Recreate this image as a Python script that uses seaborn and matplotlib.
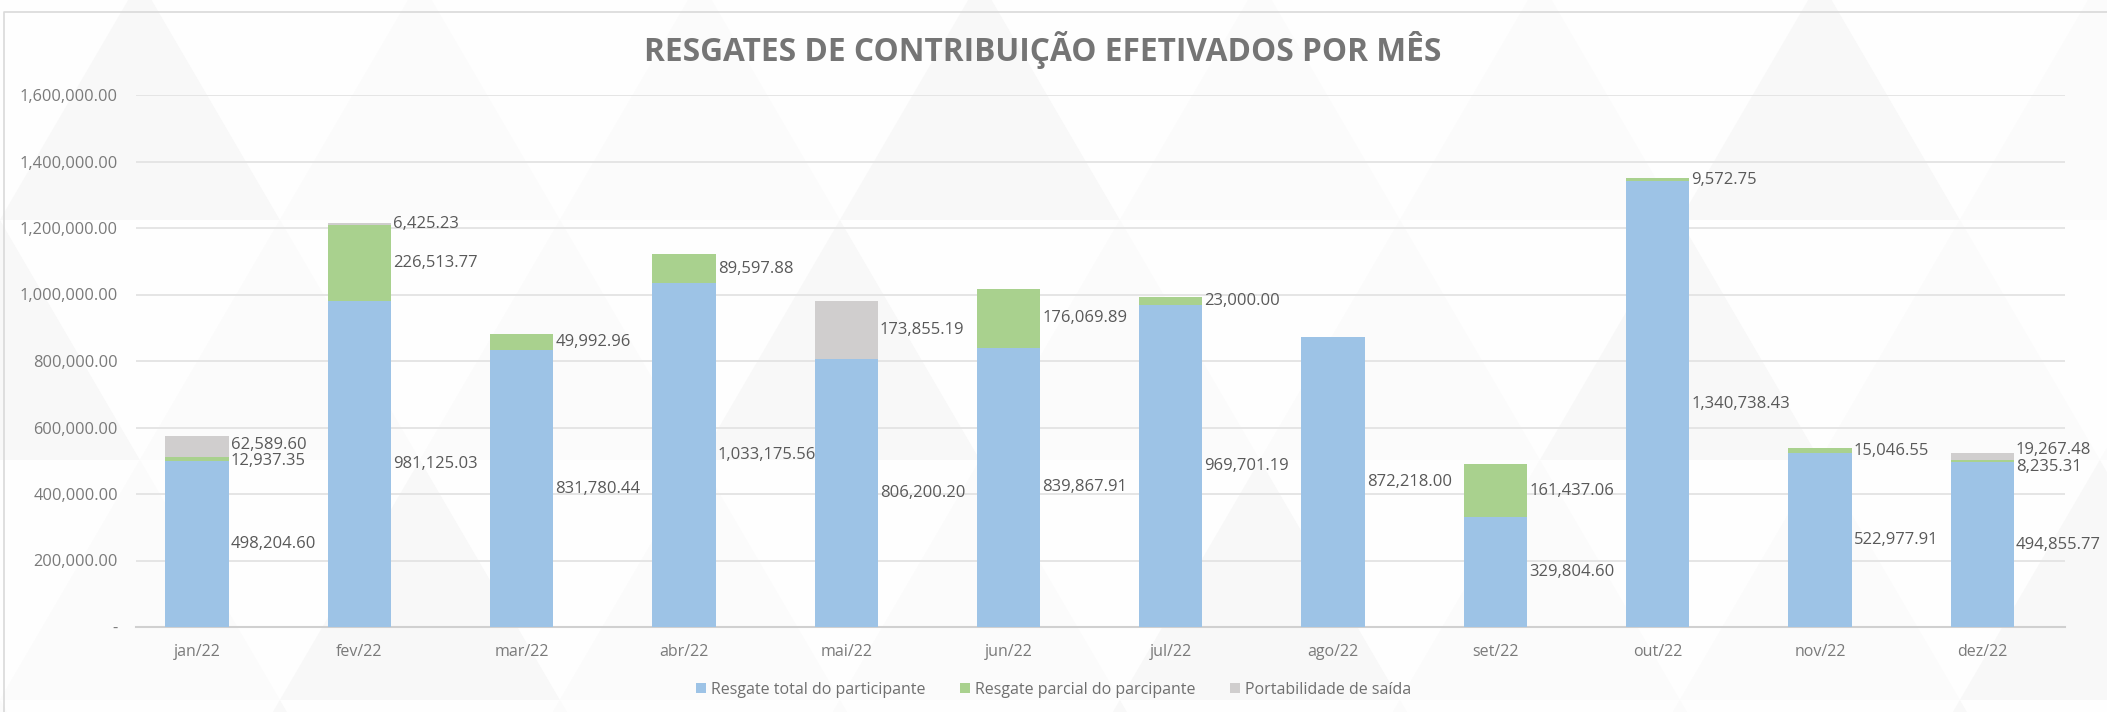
import matplotlib
matplotlib.use('Agg')
import matplotlib.pyplot as plt
from matplotlib.patches import Patch, Polygon
import seaborn as sns
import numpy as np
import pandas as pd

meses = ['jan/22', 'fev/22', 'mar/22', 'abr/22', 'mai/22', 'jun/22',
         'jul/22', 'ago/22', 'set/22', 'out/22', 'nov/22', 'dez/22']
resgate_total = [498204.60, 981125.03, 831780.44, 1033175.56, 806200.20, 839867.91,
                 969701.19, 872218.00, 329804.60, 1340738.43, 522977.91, 494855.77]
resgate_parcial = [12937.35, 226513.77, 49992.96, 89597.88, 0, 176069.89,
                   23000.00, 0, 161437.06, 9572.75, 15046.55, 8235.31]
portabilidade = [62589.60, 6425.23, 0, 0, 173855.19, 0,
                 0, 0, 0, 0, 0, 19267.48]
series = ['Resgate total do participante', 'Resgate parcial do parcipante', 'Portabilidade de saída']
cores = ['#9dc3e6', '#a9d18e', '#d0cece']
yticks = [0, 200000, 400000, 600000, 800000, 1000000, 1200000, 1400000, 1600000]

df = pd.DataFrame({'mes': meses, 'total': resgate_total,
                   'parcial': resgate_parcial, 'port': portabilidade})
df['c1'] = df['total']
df['c2'] = df['c1'] + df['parcial']
df['c3'] = df['c2'] + df['port']

sns.set_style('white')
plt.rcParams['font.family'] = ['Open Sans', 'DejaVu Sans']

fig = plt.figure(figsize=(21.07, 7.12), dpi=100)
fig.patch.set_facecolor('#fcfcfc')

# faint triangle background pattern
bg = fig.add_axes([0, 0, 1, 1], zorder=-10)
bg.set_xlim(0, 2107)
bg.set_ylim(712, 0)
bg.axis('off')
w, h = 280, 240
for r in range(4):
    y0 = r * h - 20
    off = (r % 2) * w / 2
    for c in range(-1, 10):
        x0 = c * w + off
        up = Polygon([[x0, y0 + h], [x0 + w / 2, y0], [x0 + w, y0 + h]], closed=True,
                     facecolor='#f8f8f8' if (c + r) % 3 == 0 else '#fbfbfb', edgecolor='none')
        dn = Polygon([[x0 + w / 2, y0], [x0 + w * 1.5, y0], [x0 + w, y0 + h]], closed=True,
                     facecolor='#fefefe', edgecolor='none')
        bg.add_patch(up)
        bg.add_patch(dn)
bg.plot([4, 4, 2107], [712, 12, 12], color='#d9d9d9', lw=1.2)

ax = fig.add_axes([136 / 2107, 1 - 627 / 712, (2065 - 136) / 2107, (627 - 95) / 712])
ax.set_facecolor('none')

largura = 0.39
kw = dict(width=largura, saturation=1, linewidth=0, edgecolor='none', ax=ax)
sns.barplot(data=df, x='mes', y='c3', color=cores[2], zorder=2, **kw)
sns.barplot(data=df, x='mes', y='c2', color=cores[1], zorder=3, **kw)
sns.barplot(data=df, x='mes', y='c1', color=cores[0], zorder=4, **kw)

ax.set_xlim(-0.376, 11.51)
ax.set_ylim(0, 1600000)
ax.set_yticks(yticks)
ax.set_yticklabels(['-'] + [f'{v:,.2f}' for v in yticks[1:]])
ax.yaxis.grid(True, color='#e3e3e3', lw=1.3, zorder=0)
ax.set_axisbelow(True)
ax.tick_params(axis='both', length=0, labelcolor='#7a7a7a')
ax.tick_params(axis='y', pad=13, labelsize=11.8)
ax.tick_params(axis='x', pad=12.5, labelsize=11.5)
for s in ['top', 'right', 'left']:
    ax.spines[s].set_visible(False)
ax.spines['bottom'].set_color('#d0d0d0')
ax.spines['bottom'].set_linewidth(1.5)
ax.set_xlabel('')
ax.set_ylabel('')

# data labels to the right of each segment, spread apart when too close
min_sep = 50000
for i in range(len(meses)):
    base = 0
    labs = []
    for vals in [resgate_total, resgate_parcial, portabilidade]:
        v = vals[i]
        if v > 0:
            labs.append([base + v / 2, v])
        base += v
    for k in range(1, len(labs)):
        if labs[k][0] - labs[k - 1][0] < min_sep:
            mid = (labs[k][0] + labs[k - 1][0]) / 2
            labs[k - 1][0] = mid - min_sep / 2
            labs[k][0] = mid + min_sep / 2
    for yc, v in labs:
        ax.annotate(f'{v:,.2f}', xy=(i + largura / 2, yc), xytext=(1.5, 0),
                    textcoords='offset points', ha='left', va='center',
                    fontsize=12, color='#595959', zorder=6)

fig.text(0.495, 1 - 50 / 712, 'RESGATES DE CONTRIBUIÇÃO EFETIVADOS POR MÊS',
         ha='center', va='center', fontsize=22.8, fontweight='bold', color='#757575')

handles = [Patch(facecolor=c, edgecolor='none') for c in cores]
fig.legend(handles, series, loc='center', bbox_to_anchor=(0.5, 1 - 690 / 712), ncol=3,
           frameon=False, fontsize=11.5, labelcolor='#6f6f6f', handlelength=0.6,
           handleheight=0.6, handletextpad=0.3, columnspacing=2.2)

fig.savefig('out.png', dpi=100, facecolor=fig.get_facecolor())
